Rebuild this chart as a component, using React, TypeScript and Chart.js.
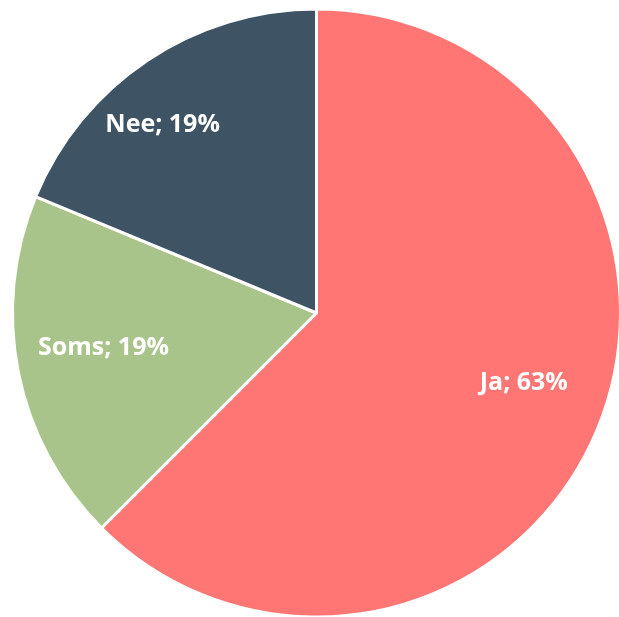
import React, { useEffect, useRef } from "react";
import { Chart, registerables } from "chart.js";

Chart.register(...registerables);

const categories = ["Ja", "Soms", "Nee"];
const values = [62.5, 18.75, 18.75];
const colors = ["#FF7674", "#A9C48B", "#3E5465"];
// label placement: radial fraction and angle shift (degrees) from slice middle
const labelRadius = [0.72, 0.71, 0.8];
const labelAngleShift = [-3.8, 2, -5.5];

const labelPlugin = {
  id: "sliceLabels",
  afterDatasetsDraw(chart: any) {
    const ctx = chart.ctx;
    const meta = chart.getDatasetMeta(0);
    const total = values.reduce((a, b) => a + b, 0);
    ctx.save();
    ctx.fillStyle = "#ffffff";
    ctx.font = "bold 25px 'Open Sans'";
    ctx.textAlign = "center";
    ctx.textBaseline = "middle";
    meta.data.forEach((arc: any, i: number) => {
      const { x, y, startAngle, endAngle, outerRadius } = arc.getProps(
        ["x", "y", "startAngle", "endAngle", "outerRadius"],
        true
      );
      const mid = (startAngle + endAngle) / 2 + (labelAngleShift[i] * Math.PI) / 180;
      const r = outerRadius * labelRadius[i];
      const lx = x + Math.cos(mid) * r;
      const ly = y + Math.sin(mid) * r;
      const pct = Math.round((values[i] / total) * 100);
      ctx.fillText(`${categories[i]}; ${pct}%`, lx, ly);
    });
    ctx.restore();
  },
};

export default function App() {
  const ref = useRef<HTMLCanvasElement | null>(null);
  useEffect(() => {
    document.body.style.margin = "0";
    const chart = new Chart(ref.current!, {
      type: "pie",
      data: {
        labels: categories,
        datasets: [
          {
            data: values,
            backgroundColor: colors,
            borderColor: "#ffffff",
            borderWidth: 3,
            hoverOffset: 0,
          },
        ],
      },
      options: {
        responsive: false,
        animation: false,
        layout: { padding: { left: 11, top: 5, right: 0, bottom: 0 } },
        plugins: { legend: { display: false }, tooltip: { enabled: false } },
      },
      plugins: [labelPlugin],
    });
    return () => chart.destroy();
  }, []);
  return (
    <div style={{ width: 619, height: 617, overflow: "hidden" }}>
      <canvas ref={ref} width={622} height={621} style={{ display: "block" }} />
    </div>
  );
}
